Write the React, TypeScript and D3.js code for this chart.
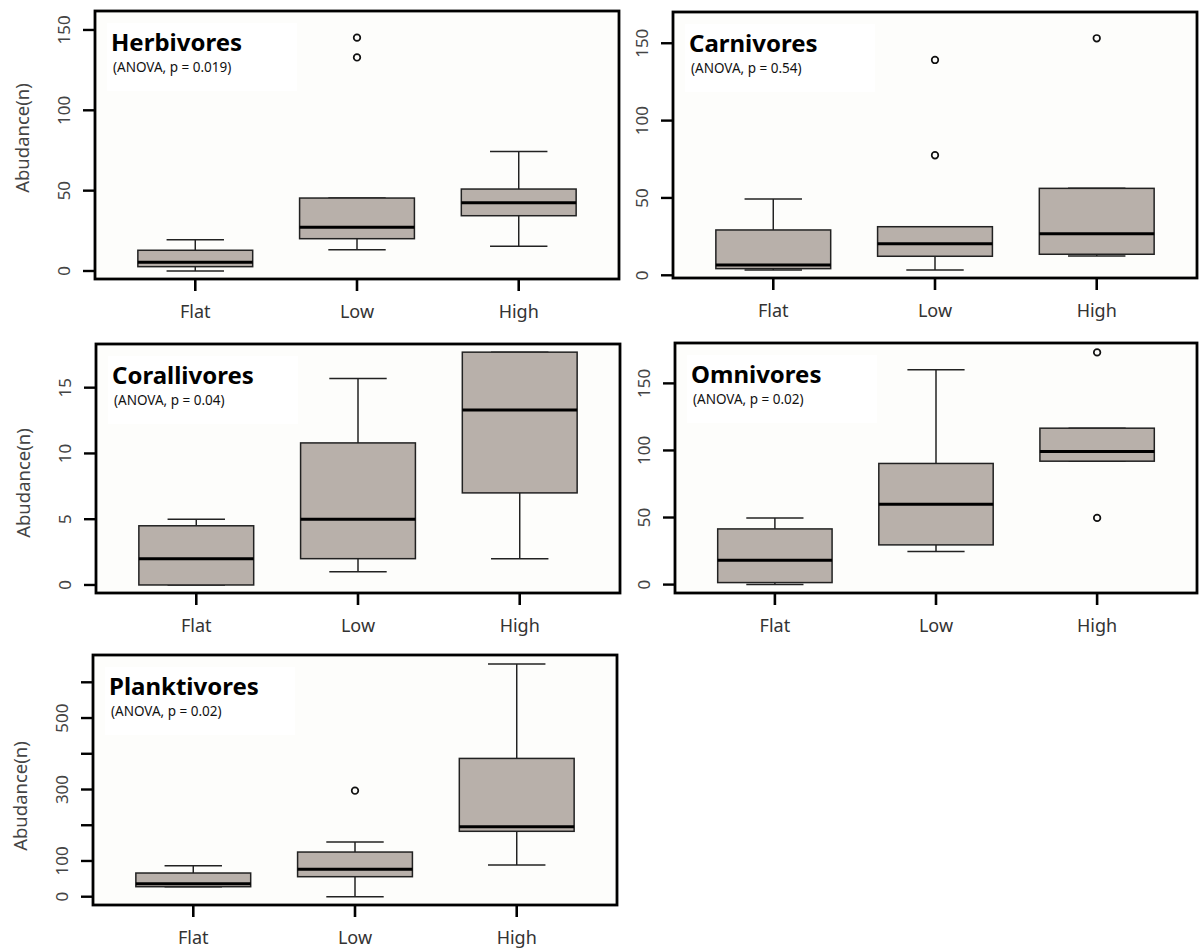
import React from "react"
import * as d3 from "d3"

// groups on the x axis
const groups = ["Flat", "Low", "High"]

// five-number summaries per group: [lower whisker, Q1, median, Q3, upper whisker]
const herbivores = [[0, 2.7, 5.4, 12.9, 19.5], [13.3, 20.1, 27.2, 45.4, 45.4], [15.4, 34.4, 42.5, 51, 74.3]]
const herbivoresOut = [[], [145.2, 132.9], []]

const carnivores = [[3.4, 4.3, 6.7, 29.3, 49.3], [3.4, 12.3, 20.4, 31.4, 31.4], [12.5, 13.6, 26.9, 56.2, 56.2]]
const carnivoresOut = [[], [139.2, 77.6], [153.2]]

const corallivores = [[0, 0, 2, 4.5, 5], [1, 2, 5, 10.8, 15.7], [2, 7, 13.3, 17.7, 17.7]]
const corallivoresOut = [[], [], []]

const omnivores = [[0, 1.5, 18.1, 41.5, 49.7], [24.6, 29.6, 59.9, 90.3, 160.1], [92, 92, 99.3, 116.6, 116.6]]
const omnivoresOut = [[], [], [173.1, 49.7]]

const planktivores = [[28, 28, 36.4, 66.3, 86.8], [0, 56, 76.7, 125, 153], [88.7, 183, 196, 387, 651]]
const planktivoresOut = [[], [296.7], []]

const titles = ["Herbivores", "Carnivores", "Corallivores", "Omnivores", "Planktivores"]
const pLabels = ["(ANOVA, p = 0.019)", "(ANOVA, p = 0.54)", "(ANOVA, p = 0.04)", "(ANOVA, p = 0.02)", "(ANOVA, p = 0.02)"]

const yTicks = [[0, 50, 100, 150], [0, 50, 100, 150], [0, 5, 10, 15], [0, 50, 100, 150], [0, 100, 200, 300, 400, 500, 600]]
const yTickLabels = [[0, 50, 100, 150], [0, 50, 100, 150], [0, 5, 10, 15], [0, 50, 100, 150], [0, 100, 300, 500]]
const yDomains = [[-4.98, 161.8], [-1.75, 170.2], [-0.61, 18.32], [-6.27, 180.1], [-23.2, 676.4]]

const stats = [herbivores, carnivores, corallivores, omnivores, planktivores]
const outliers = [herbivoresOut, carnivoresOut, corallivoresOut, omnivoresOut, planktivoresOut]

// frame of each panel on the page
const frames = [
    {left: 95, right: 619, top: 11, bottom: 279, yTitle: 138},
    {left: 673, right: 1197, top: 12, bottom: 278, yTitle: null},
    {left: 96, right: 620, top: 344, bottom: 593, yTitle: 483},
    {left: 675, right: 1197, top: 343, bottom: 593, yTitle: null},
    {left: 93, right: 617, top: 655, bottom: 905, yTitle: 796},
]

const font = "'Noto Sans', 'Open Sans', sans-serif"
const boxFill = "#b8b0aa"

const Panel = ({i}: {i: number}) => {
    const f = frames[i]
    const x = d3.scaleLinear().domain([0.38, 3.62]).range([f.left, f.right])
    const y = d3.scaleLinear().domain(yDomains[i]).range([f.bottom, f.top])
    const bw = 0.71 * (x(2) - x(1))

    return (
        <g>
            <rect x={f.left} y={f.top} width={f.right - f.left} height={f.bottom - f.top} fill="#fdfdfb" />
            <rect x={f.left + 12} y={f.top + 12} width={190} height={68} fill="#ffffff" />

            {stats[i].map((s, g) => {
                const cx = x(g + 1)
                return (
                    <g key={g} stroke="#222" strokeWidth={1.5}>
                        <line x1={cx} x2={cx} y1={y(s[0])} y2={y(s[1])} />
                        <line x1={cx} x2={cx} y1={y(s[3])} y2={y(s[4])} />
                        <line x1={cx - bw / 4} x2={cx + bw / 4} y1={y(s[0])} y2={y(s[0])} />
                        <line x1={cx - bw / 4} x2={cx + bw / 4} y1={y(s[4])} y2={y(s[4])} />
                        <rect x={cx - bw / 2} y={y(s[3])} width={bw} height={Math.max(1, y(s[1]) - y(s[3]))} fill={boxFill} />
                        <line x1={cx - bw / 2} x2={cx + bw / 2} y1={y(s[2])} y2={y(s[2])} stroke="#000" strokeWidth={3} />
                        {outliers[i][g].map((o, k) => (
                            <circle key={k} cx={cx} cy={y(o)} r={3.3} fill="none" stroke="#111" strokeWidth={1.7} />
                        ))}
                    </g>
                )
            })}

            <rect x={f.left} y={f.top} width={f.right - f.left} height={f.bottom - f.top} fill="none" stroke="#000" strokeWidth={2.8} />

            <text x={f.left + 16} y={f.top + 40} fontFamily={font} fontWeight="bold" fontSize={24} fill="#000">{titles[i]}</text>
            <text x={f.left + 18} y={f.top + 61} fontFamily={font} fontSize={13.5} fill="#111">{pLabels[i]}</text>

            {groups.map((g, k) => (
                <g key={g}>
                    <line x1={x(k + 1)} x2={x(k + 1)} y1={f.bottom} y2={f.bottom + 12} stroke="#000" strokeWidth={2.6} />
                    <text x={x(k + 1)} y={f.bottom + 39} textAnchor="middle" fontFamily={font} fontSize={18} fill="#333">{g}</text>
                </g>
            ))}

            {yTicks[i].map(t => (
                <line key={t} x1={f.left - 12} x2={f.left} y1={y(t)} y2={y(t)} stroke="#000" strokeWidth={2.4} />
            ))}
            {yTickLabels[i].map(t => (
                <text key={t} transform={`translate(${f.left - 25},${y(t)}) rotate(-90)`} textAnchor="middle"
                      fontFamily={font} fontSize={17} fill="#444">{t}</text>
            ))}

            {f.yTitle !== null &&
                <text transform={`translate(${f.left - 66},${f.yTitle}) rotate(-90)`} textAnchor="middle"
                      fontFamily={font} fontSize={18.5} fill="#444">Abudance(n)</text>}
        </g>
    )
}

export default function App() {
    return (
        <svg width={1200} height={951} style={{position: "absolute", left: 0, top: 0, background: "#fff"}}>
            {titles.map((t, i) => <Panel key={t} i={i} />)}
        </svg>
    )
}
